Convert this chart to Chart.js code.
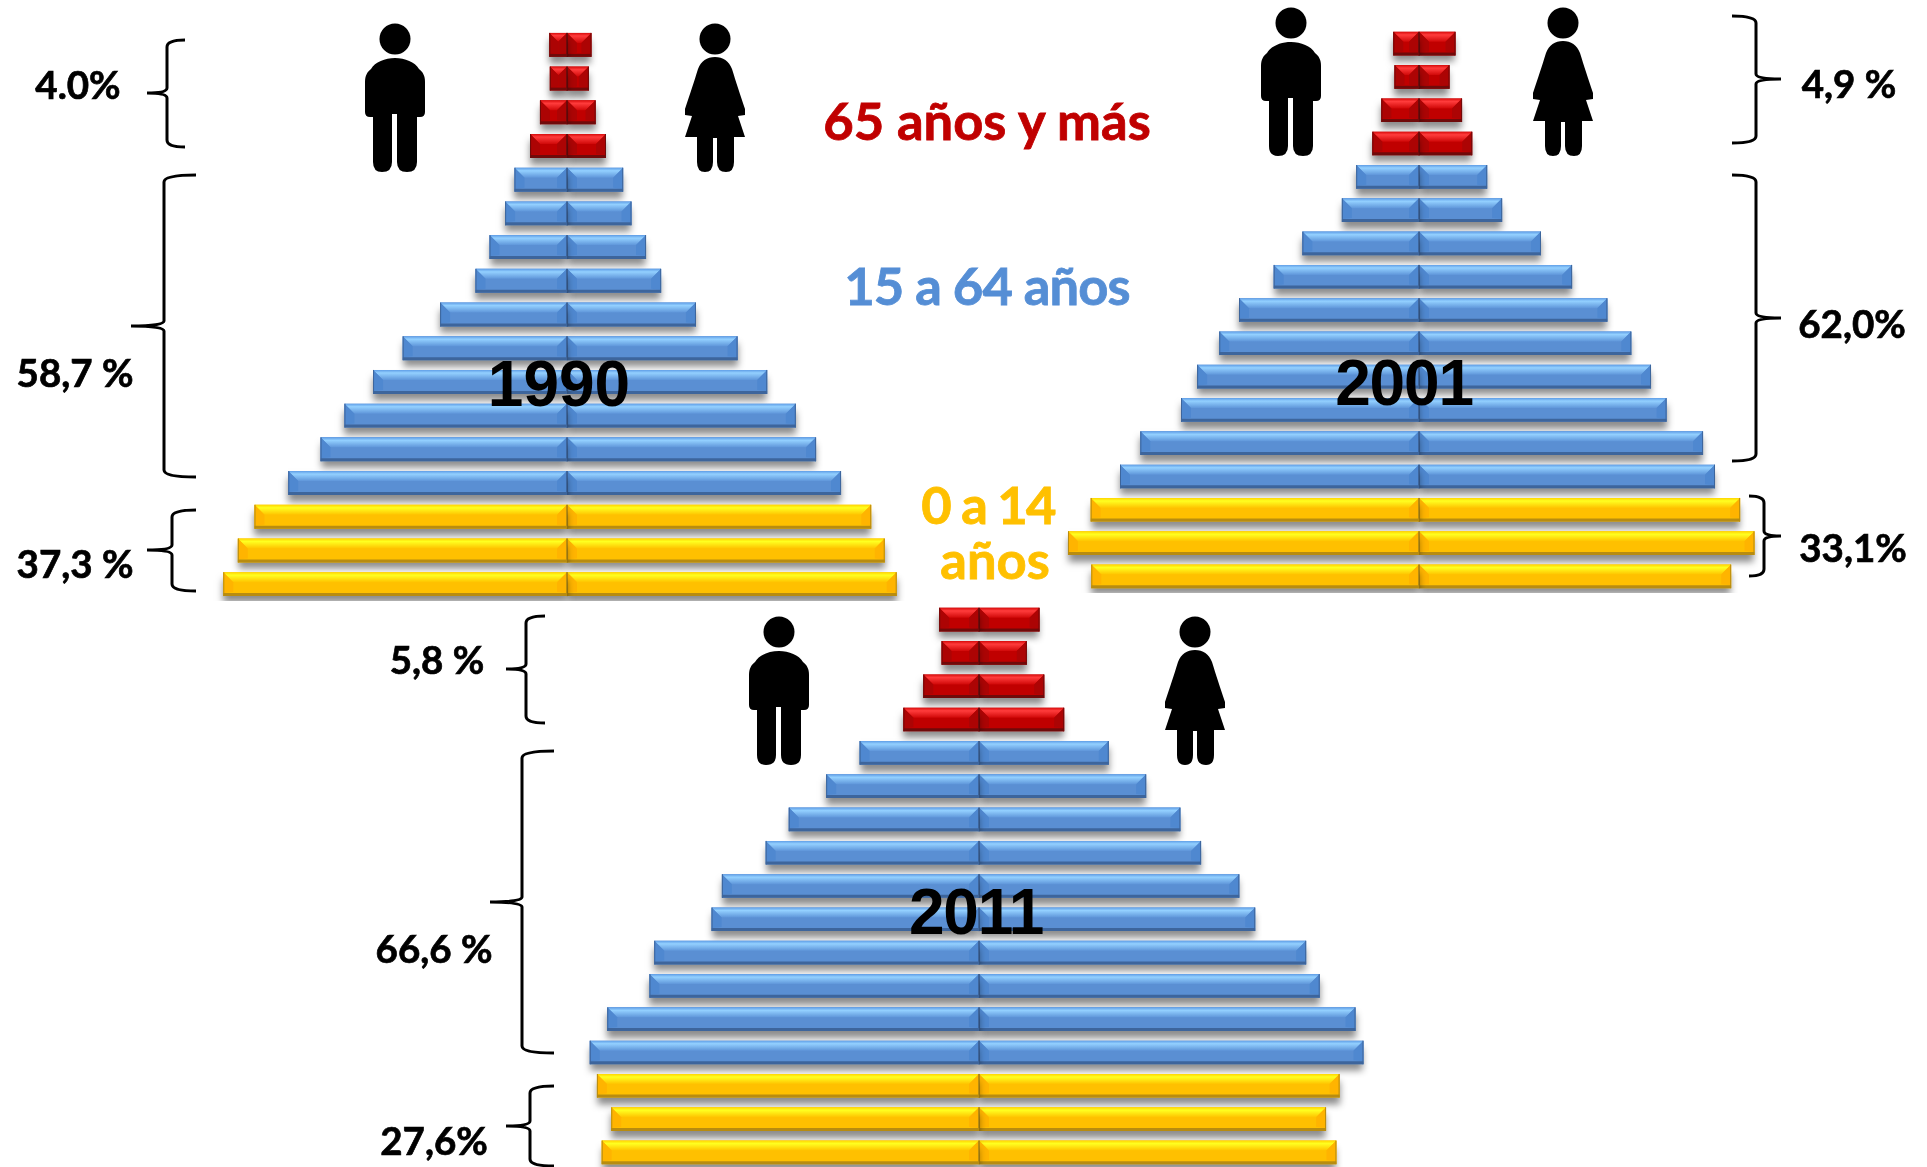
<!DOCTYPE html>
<html lang="es">
<head>
<meta charset="utf-8">
<title>Pirámides de población 1990, 2001, 2011</title>
<script src="https://cdn.jsdelivr.net/npm/chart.js@4"></script>
<style>
    html, body { margin: 0; padding: 0; background: #fff; }
    #page { position: relative; width: 1927px; height: 1167px; overflow: hidden; }
    canvas { position: absolute; }
    svg { position: absolute; left: 0; top: 0; }
    .lbl { position: absolute; transform: translate(-50%, -50%); white-space: nowrap; line-height: 1; }
    .pct { font: 700 38.5px Lato, sans-serif; color: #000; -webkit-text-stroke: 0.7px #000; }
    .year { font: 700 64px "Liberation Sans", sans-serif; color: #000; }
    .narrow { letter-spacing: -1.2px; }
    .group { font: 700 52.5px Lato, sans-serif; -webkit-text-stroke: 0.8px currentColor; }
    .tight { letter-spacing: -0.9px; }
    .tighter { letter-spacing: -1.7px; }
</style>
</head>
<body>
<div id="page"></div>
<script>
// Age groups, top row first
const ageGroups = ['80+', '75-79', '70-74', '65-69', '60-64', '55-59', '50-54', '45-49', '40-44',
    '35-39', '30-34', '25-29', '20-24', '15-19', '10-14', '5-9', '0-4'];

// Share of total population
const men1990 = [0.34, 0.33, 0.52, 0.71, 1.01, 1.19, 1.49, 1.76, 2.44, 3.16, 3.73, 4.28, 4.74, 5.36, 6.01, 6.33, 6.61];
const women1990 = [0.47, 0.42, 0.55, 0.75, 1.08, 1.24, 1.52, 1.81, 2.48, 3.28, 3.85, 4.40, 4.79, 5.27, 5.85, 6.11, 6.34];
const men2001 = [0.43, 0.41, 0.63, 0.78, 1.05, 1.29, 1.95, 2.43, 3.01, 3.34, 3.71, 3.98, 4.66, 5.00, 5.49, 5.87, 5.48];
const women2001 = [0.61, 0.51, 0.72, 0.89, 1.14, 1.39, 2.04, 2.56, 3.15, 3.55, 3.88, 4.14, 4.75, 4.95, 5.37, 5.61, 5.22];
const men2011 = [0.50, 0.47, 0.70, 0.95, 1.50, 1.92, 2.39, 2.68, 3.23, 3.36, 4.08, 4.14, 4.67, 4.89, 4.80, 4.62, 4.74];
const women2011 = [0.76, 0.60, 0.82, 1.07, 1.63, 2.10, 2.53, 2.79, 3.27, 3.47, 4.11, 4.28, 4.73, 4.83, 4.53, 4.36, 4.49];

const bevels = {
    red: { face: '#c00000', side: '#ac0404', bottom: '#700a0a', top: ['#d80c0c', '#ff3c3c', '#d00808'] },
    blue: { face: '#5a8fd3', side: '#4f88d0', bottom: '#3d659c', top: ['#5f9de6', '#93d0ff', '#5f96da'] },
    yellow: { face: '#ffc000', side: '#ffb400', bottom: '#b88c10', top: ['#ffd400', '#ffff20', '#ffc400'] }
};

function rowBevel(index) {
    if (index < 4) return bevels.red;
    if (index < 14) return bevels.blue;
    return bevels.yellow;
}

function facet(ctx, points, fill) {
    ctx.beginPath();
    points.forEach((p, i) => i ? ctx.lineTo(p[0], p[1]) : ctx.moveTo(p[0], p[1]));
    ctx.closePath();
    ctx.fillStyle = fill;
    ctx.fill();
}

// Soft shadow under the bars, then the bevelled faces on top of them
const bevelPlugin = {
    id: 'bevel',
    beforeDatasetDraw(chart) {
        const ctx = chart.ctx;
        ctx.save();
        ctx.shadowColor = 'rgba(0,0,0,0.45)';
        ctx.shadowBlur = 7;
        ctx.shadowOffsetY = 7;
    },
    afterDatasetDraw(chart, args) {
        const ctx = chart.ctx;
        ctx.restore();
        args.meta.data.forEach((bar, i) => {
            const p = bar.getProps(['x', 'y', 'base', 'height'], true);
            const l = Math.min(p.x, p.base), r = Math.max(p.x, p.base);
            const t = p.y - p.height / 2, b = p.y + p.height / 2;
            const c = rowBevel(i);
            const d = Math.min(10, (r - l) / 2);
            const low = b - 3;
            const grad = ctx.createLinearGradient(0, t, 0, t + d);
            grad.addColorStop(0, c.top[0]);
            grad.addColorStop(0.3, c.top[1]);
            grad.addColorStop(1, c.top[2]);
            facet(ctx, [[l, t], [r, t], [r - d, t + d], [l + d, t + d]], grad);
            facet(ctx, [[l, t], [l + d, t + d], [l + d, low - 1], [l, low]], c.side);
            facet(ctx, [[r, t], [r - d, t + d], [r - d, low - 1], [r, low]], c.side);
            facet(ctx, [[l, low], [r, low], [r, b], [l, b]], c.bottom);
            // seam on the outer edge and the centre line
            ctx.fillStyle = c.bottom;
            ctx.fillRect(l, t, 1, p.height);
            ctx.fillRect(r - 1, t, 1, p.height);
        });
    }
};

function drawPyramid(canvasBox, menValues, womenValues) {
    const canvas = document.createElement('canvas');
    canvas.width = canvasBox.halfWidth * 2;
    canvas.height = canvasBox.pitch * ageGroups.length;
    canvas.style.left = (canvasBox.center - canvasBox.halfWidth) + 'px';
    canvas.style.top = (canvasBox.firstRow - canvasBox.pitch / 2) + 'px';
    document.getElementById('page').appendChild(canvas);

    const range = canvasBox.halfWidth / canvasBox.pxPerUnit;
    const colors = ageGroups.map((g, i) => rowBevel(i).face);
    return new Chart(canvas, {
        type: 'bar',
        data: {
            labels: ageGroups,
            datasets: [
                { label: 'Hombres', data: menValues.map(v => -v), backgroundColor: colors, borderWidth: 0 },
                { label: 'Mujeres', data: womenValues, backgroundColor: colors, borderWidth: 0 }
            ]
        },
        options: {
            indexAxis: 'y',
            responsive: false,
            animation: false,
            events: [],
            layout: { padding: 0 },
            categoryPercentage: 0.71,
            barPercentage: 1,
            scales: {
                x: { stacked: true, display: false, min: -range, max: range },
                y: { stacked: true, display: false }
            },
            plugins: { legend: { display: false }, tooltip: { enabled: false } }
        },
        plugins: [bevelPlugin]
    });
}

drawPyramid({ center: 567, halfWidth: 400, firstRow: 44.5, pitch: 33.76, pxPerUnit: 52 }, men1990, women1990);
drawPyramid({ center: 1419, halfWidth: 400, firstRow: 44, pitch: 33.3, pxPerUnit: 59.8 }, men2001, women2001);
drawPyramid({ center: 979, halfWidth: 420, firstRow: 620, pitch: 33.3, pxPerUnit: 79.6 }, men2011, women2011);

// Text labels
const yearLabels = ['1990', '2001', '2011'];
const yearSpots = [[559, 384], [1404, 383], [976, 912]];
const yearClasses = ['year', 'year narrow', 'year narrow'];
const pctLabels = ['4.0%', '58,7 %', '37,3 %', '4,9 %', '62,0%', '33,1%', '5,8 %', '66,6 %', '27,6%'];
const pctSpots = [[78, 84], [75, 372], [75, 563], [1849, 83], [1852, 323], [1853, 547], [437, 659], [434, 948], [434, 1140]];
const groupLabels = ['65 años y más', '15 a 64 años', '0 a 14', 'años'];
const groupSpots = [[987, 119], [987, 284], [988, 503], [995, 558]];
const groupColors = ['#c00000', '#558ed5', '#ffc000', '#ffc000'];
const groupClasses = ['group', 'group tight', 'group tighter', 'group'];

function addLabel(text, spot, cls, color) {
    const div = document.createElement('div');
    div.className = 'lbl ' + cls;
    div.textContent = text;
    div.style.left = spot[0] + 'px';
    div.style.top = spot[1] + 'px';
    if (color) div.style.color = color;
    document.getElementById('page').appendChild(div);
}

// Braces: tip x, spine x, point x, top, bottom, middle
const braces = [
    [185, 167, 147, 40, 147, 93],
    [196, 164, 131, 175, 477, 326],
    [196, 172, 147, 510, 591, 550],
    [1732, 1756, 1781, 16, 143, 79],
    [1732, 1756, 1781, 175, 461, 318],
    [1749, 1764, 1781, 496, 576, 536],
    [545, 526, 506, 616, 723, 669],
    [554, 522, 490, 751, 1053, 902],
    [554, 530, 506, 1086, 1166, 1126]
];

function bracePath(b) {
    const [tip, spine, point, top, bottom, mid] = b;
    const r = 5;
    return `M${tip} ${top} Q${spine} ${top} ${spine} ${top + r * 1.4} L${spine} ${mid - r}` +
        ` Q${spine} ${mid} ${point} ${mid} Q${spine} ${mid} ${spine} ${mid + r} L${spine} ${bottom - r * 1.4}` +
        ` Q${spine} ${bottom} ${tip} ${bottom}`;
}

const manShape = 'M30 34C40 34 50 38 54 45C58 48 60 52 60 58L60 88Q60 93 55 93L52 93L52 138Q52 148 42 148Q32 148 32 138L32 90L27 90L27 138Q27 148 17 148Q8 148 8 138L8 93L5 93Q0 93 0 88L0 58C0 52 2 48 6 45C10 38 20 34 30 34Z';
const womanShape = 'M30 33C38 33 44 37 47 45C51 58 55 70 60 85L60 91L53 92L60 113L49 113L49 138Q49 148 41 148Q32 148 32 138L32 114L28 114L28 138Q28 148 20 148Q12 148 12 138L12 113L0 113L7 92L0 91L0 85C5 70 9 58 13 45C16 37 22 33 30 33Z';
const manSpots = [[365, 24], [1261, 8], [749, 617]];
const womanSpots = [[685, 24], [1533, 8], [1165, 617]];

function person(shape, spot) {
    return `<g transform="translate(${spot[0]} ${spot[1]})"><ellipse cx="30" cy="15" rx="15.5" ry="15.5"/><path d="${shape}"/></g>`;
}

const page = document.getElementById('page');
page.insertAdjacentHTML('beforeend',
    '<svg width="1927" height="1167" fill="#000">' +
    braces.map(b => `<path d="${bracePath(b)}" fill="none" stroke="#000" stroke-width="3"/>`).join('') +
    manSpots.map(s => person(manShape, s)).join('') +
    womanSpots.map(s => person(womanShape, s)).join('') +
    '</svg>');

yearLabels.forEach((t, i) => addLabel(t, yearSpots[i], yearClasses[i]));
pctLabels.forEach((t, i) => addLabel(t, pctSpots[i], 'pct'));
groupLabels.forEach((t, i) => addLabel(t, groupSpots[i], groupClasses[i], groupColors[i]));
</script>
</body>
</html>
